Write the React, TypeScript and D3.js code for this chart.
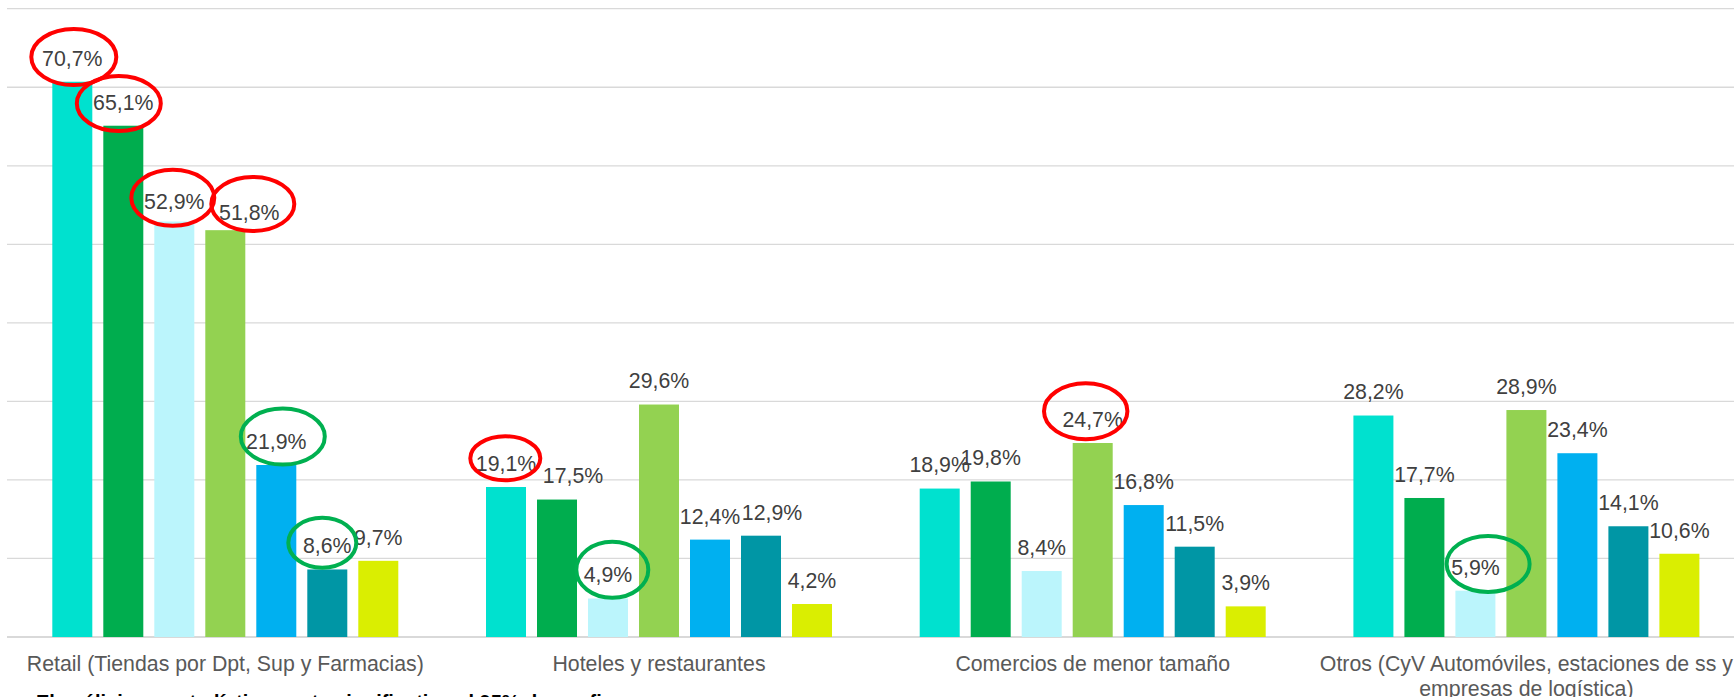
import React from "react";
import * as d3 from "d3";

// ---------- data ----------
const categories = [
  "Retail (Tiendas por Dpt, Sup y Farmacias)",
  "Hoteles y restaurantes",
  "Comercios de menor tamaño",
  "Otros (CyV Automóviles, estaciones de ss y empresas de logística)",
];
const categoryLines = [
  ["Retail (Tiendas por Dpt, Sup y Farmacias)"],
  ["Hoteles y restaurantes"],
  ["Comercios de menor tamaño"],
  ["Otros (CyV Automóviles, estaciones de ss y", "empresas de logística)"],
];
const seriesNames = ["Serie 1", "Serie 2", "Serie 3", "Serie 4", "Serie 5", "Serie 6", "Serie 7"];
const serie1 = [70.7, 19.1, 18.9, 28.2];
const serie2 = [65.1, 17.5, 19.8, 17.7];
const serie3 = [52.9, 4.9, 8.4, 5.9];
const serie4 = [51.8, 29.6, 24.7, 28.9];
const serie5 = [21.9, 12.4, 16.8, 23.4];
const serie6 = [8.6, 12.9, 11.5, 14.1];
const serie7 = [9.7, 4.2, 3.9, 10.6];
const seriesValues = [serie1, serie2, serie3, serie4, serie5, serie6, serie7];
const yTicks = [0, 10, 20, 30, 40, 50, 60, 70, 80];
const footnote = "El análisis es estadísticamente significativo al 95% de confianza";

// highlighted labels: [categoryIndex, seriesIndex]
const redMarks = [[0, 0], [0, 1], [0, 2], [0, 3], [1, 0], [2, 3]];
const greenMarks = [[0, 4], [0, 5], [1, 2], [3, 2]];

// ---------- styles / layout ----------
const W = 1734;
const H = 697;
const colors = ["#00E1CF", "#00AD4E", "#BBF5FC", "#93D251", "#00B0F0", "#0096A5", "#DAEE01"];
const FONT = "'Liberation Sans', Arial, sans-serif";
const BASE_Y = 637;
const TOP_Y = 8.7;
const GROUP_START = 8.45;
const GROUP_STEP = 433.7;

// manual label nudges (key "cat-series") [dx, dy]
const labelNudge: Record<string, [number, number]> = {
  "0-2": [0, 4],
  "0-3": [24, 5.5],
  "1-1": [16, 0],
  "1-5": [11, 0],
};
// ellipse geometry relative to label centre [dx, dy, rx, ry]
const ellipseGeom: Record<string, [number, number, number, number]> = {
  "0-0": [1.5, -1, 42.5, 28],
  "0-1": [-4.5, 1.5, 42, 27.5],
  "0-2": [-1.5, -4, 41.5, 28],
  "0-3": [3.5, -8, 41.5, 27],
  "1-0": [-0.7, -5, 35, 22],
  "2-3": [-7, -8, 41.7, 28],
  "0-4": [6.5, -4.7, 42, 28],
  "0-5": [-5, -3, 34, 25],
  "1-2": [4.3, -5, 36, 28],
  "3-2": [12.7, -3, 41.5, 28],
};

const fmt = (v: number) => v.toFixed(1).replace(".", ",") + "%";

export default function App() {
  const x0 = d3
    .scaleBand<string>()
    .domain(categories)
    .range([GROUP_START, GROUP_START + GROUP_STEP * categories.length])
    .padding(0);
  const x1 = d3
    .scaleBand<string>()
    .domain(seriesNames)
    .range([0, x0.bandwidth()])
    .paddingInner(11 / 51)
    .paddingOuter(0.86);
  const y = d3.scaleLinear().domain([0, 80]).range([BASE_Y, TOP_Y]);

  const labelPos = (ci: number, si: number) => {
    const v = seriesValues[si][ci];
    const cx = (x0(categories[ci]) as number) + (x1(seriesNames[si]) as number) + x1.bandwidth() / 2;
    const cy = y(v) - 23.7;
    const n = labelNudge[`${ci}-${si}`] || [0, 0];
    return { cx: cx + n[0], cy: cy + n[1] };
  };

  const marks = [
    ...redMarks.map((m) => ({ ci: m[0], si: m[1], color: "#FF0000" })),
    ...greenMarks.map((m) => ({ ci: m[0], si: m[1], color: "#00B050" })),
  ];

  return (
    <svg
      width={W}
      height={H}
      style={{ position: "absolute", left: 0, top: 0, background: "#fff" }}
      fontFamily={FONT}
    >
      <rect x={0} y={0} width={W} height={H} fill="#fff" />
      {/* gridlines */}
      {yTicks.map((t) => (
        <line
          key={t}
          x1={7}
          x2={W}
          y1={y(t)}
          y2={y(t)}
          stroke="#D9D9D9"
          strokeWidth={t === 0 ? 1.8 : 1.3}
        />
      ))}
      {/* bars */}
      {categories.map((c, ci) => (
        <g key={c} transform={`translate(${x0(c)},0)`}>
          {seriesNames.map((s, si) => {
            const v = seriesValues[si][ci];
            return (
              <rect
                key={s}
                x={x1(s)}
                y={y(v)}
                width={x1.bandwidth()}
                height={y(0) - y(v)}
                fill={colors[si]}
              />
            );
          })}
        </g>
      ))}
      {/* value labels */}
      {categories.map((c, ci) =>
        seriesNames.map((s, si) => {
          const p = labelPos(ci, si);
          return (
            <text
              key={`${ci}-${si}`}
              x={p.cx}
              y={p.cy + 7.6}
              textAnchor="middle"
              fontSize={21.3}
              fill="#404040"
            >
              {fmt(seriesValues[si][ci])}
            </text>
          );
        })
      )}
      {/* ellipses */}
      {marks.map((m) => {
        const p = labelPos(m.ci, m.si);
        const g = ellipseGeom[`${m.ci}-${m.si}`];
        return (
          <ellipse
            key={`e-${m.ci}-${m.si}`}
            cx={p.cx + g[0]}
            cy={p.cy + g[1]}
            rx={g[2]}
            ry={g[3]}
            fill="none"
            stroke={m.color}
            strokeWidth={4}
          />
        );
      })}
      {/* category labels */}
      {categories.map((c, ci) => (
        <text
          key={`cl-${ci}`}
          x={(x0(c) as number) + x0.bandwidth() / 2}
          y={671}
          textAnchor="middle"
          fontSize={21.3}
          fill="#595959"
        >
          {categoryLines[ci].map((line, li) => (
            <tspan key={li} x={(x0(c) as number) + x0.bandwidth() / 2} dy={li === 0 ? 0 : 24.5}>
              {line}
            </tspan>
          ))}
        </text>
      ))}
      {/* footnote (cut by the frame) */}
      <text x={36} y={708.5} fontSize={20} fontWeight="bold" fill="#000">
        {footnote}
      </text>
    </svg>
  );
}
